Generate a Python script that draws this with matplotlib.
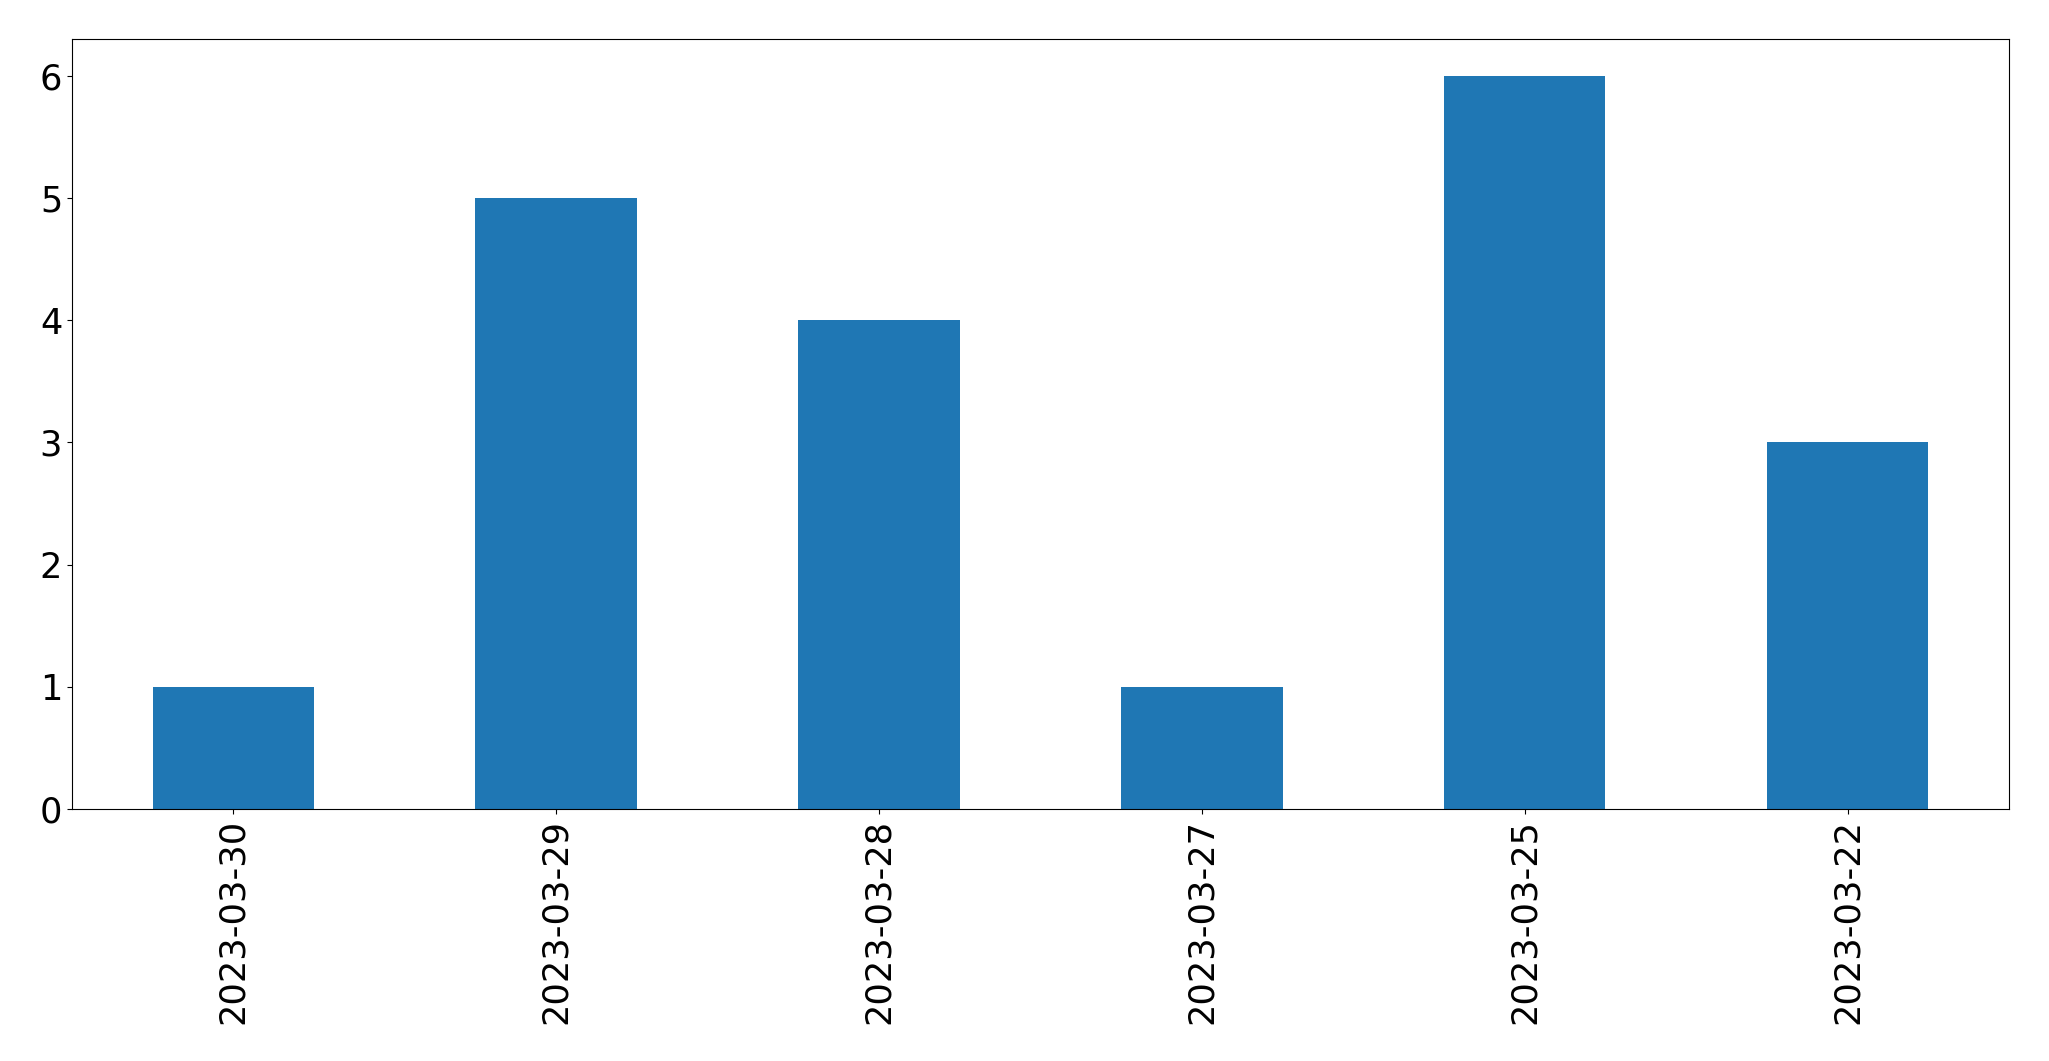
import pandas as pd
import matplotlib
matplotlib.use('Agg')
import matplotlib.pyplot as plt

dates = ['2023-03-30', '2023-03-29', '2023-03-28', '2023-03-27', '2023-03-25', '2023-03-22']
counts = [1, 5, 4, 1, 6, 3]

s = pd.Series(counts, index=dates)

fig = plt.figure(figsize=(20.49, 10.61), dpi=100)
ax = fig.add_axes([0.0351, 0.2375, 0.9454, 0.7257])
s.plot.bar(ax=ax, color='#1f77b4', fontsize=25.3)
ax.set_xlim(-0.5, len(dates) - 0.5)

fig.savefig('out.png', dpi=100)
